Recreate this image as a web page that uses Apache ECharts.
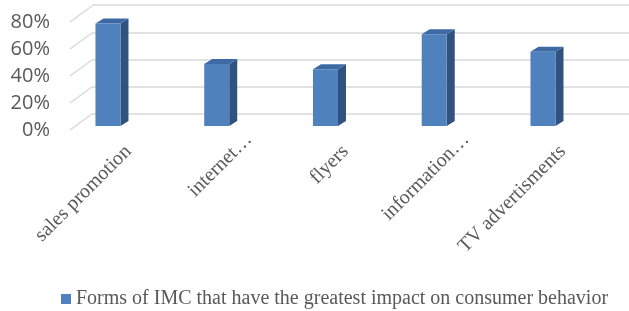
<!DOCTYPE html>
<html>
<head>
<meta charset="utf-8">
<script src="https://cdn.jsdelivr.net/npm/echarts@6/dist/echarts.min.js"></script>
<style>
  html, body { margin: 0; padding: 0; background: #fff; }
  #chart { width: 629px; height: 311px; }
</style>
</head>
<body>
<div id="chart"></div>
<script>
// data
const categories = ['sales promotion', 'internet\u2026', 'flyers', 'information\u2026', 'TV advertisments'];
const values = [76, 46, 42, 68, 55];
const yTicks = [0, 20, 40, 60, 80];
const seriesName = 'Forms of IMC that have the greatest impact on consumer behavior';

const textGrey = '#595959';
const gridGrey = '#d9d9d9';
const faceColor = '#4f81bd';
const sideColor = '#31527f';
const topColor = '#3d6aa4';

const yMin = yTicks[0];
const yMax = yTicks[yTicks.length - 1];
const yStep = yTicks[1] - yTicks[0];

const chart = echarts.init(document.getElementById('chart'));

// labels that are not truncated sit a little lower / left
const labelData = categories.map(c => (
    c.endsWith('\u2026') ? c : { value: c, textStyle: { padding: [15, 17, 0, 0] } }
));

const hiddenAxis = {
    axisLine: { show: false },
    axisTick: { show: false },
    axisLabel: { show: false },
    splitLine: { show: false }
};

const option = {
    animation: false,
    grid: [
        // back wall
        { left: 92, right: 0, top: 5, height: 109 },
        // front plane (value labels)
        { left: 70, width: 20, top: 22, height: 108 },
        // bars
        { left: 53.6, width: 543.75, top: 18, height: 108 },
        // category labels
        { left: 86, width: 543.75, top: 22, height: 110.5 }
    ],
    xAxis: [
        { type: 'category', gridIndex: 0, data: categories, ...hiddenAxis },
        { type: 'category', gridIndex: 1, data: [''], ...hiddenAxis },
        { type: 'category', gridIndex: 2, data: categories, ...hiddenAxis },
        {
            type: 'category', gridIndex: 3, data: labelData,
            axisLine: { show: false },
            axisTick: { show: false },
            splitLine: { show: false },
            axisLabel: {
                rotate: 45,
                margin: 4,
                interval: 0,
                fontFamily: 'Liberation Serif',
                fontSize: 20,
                color: textGrey
            }
        }
    ],
    yAxis: [
        {
            type: 'value', gridIndex: 0, min: yMin, max: yMax, interval: yStep,
            axisLine: { show: false },
            axisTick: { show: false },
            axisLabel: { show: false },
            splitLine: { show: true, lineStyle: { color: gridGrey, width: 1.5 } }
        },
        {
            type: 'value', gridIndex: 1, min: yMin, max: yMax, interval: yStep,
            axisLine: { show: false },
            axisTick: { show: false },
            splitLine: { show: false },
            axisLabel: {
                margin: 20,
                formatter: '{value}%',
                fontFamily: 'Open Sans',
                fontSize: 20,
                color: textGrey
            }
        },
        { type: 'value', gridIndex: 2, min: yMin, max: yMax, ...hiddenAxis },
        { type: 'value', gridIndex: 3, min: yMin, max: yMax, ...hiddenAxis }
    ],
    legend: {
        data: [{ name: seriesName, icon: 'rect' }],
        left: 56,
        top: 284,
        padding: [5, 5, 5, 5],
        itemWidth: 10,
        itemHeight: 10,
        textStyle: { fontFamily: 'Liberation Serif', fontSize: 20, color: textGrey }
    },
    series: [
        {
            // side wall diagonals
            type: 'custom',
            xAxisIndex: 1,
            yAxisIndex: 1,
            silent: true,
            data: yTicks.map(t => [0, t]),
            renderItem: (params, api) => {
                const y = api.coord([0, api.value(1)])[1];
                const x = params.coordSys.x;
                return {
                    type: 'line',
                    shape: { x1: x, y1: y, x2: x + 22, y2: y - 16 },
                    style: { stroke: gridGrey, lineWidth: 1.5 }
                };
            }
        },
        {
            name: seriesName,
            type: 'custom',
            xAxisIndex: 2,
            yAxisIndex: 2,
            itemStyle: { color: faceColor },
            data: values.map((v, i) => [i, v]),
            renderItem: (params, api) => {
                const base = api.coord([api.value(0), 0]);
                const top = api.coord([api.value(0), api.value(1)]);
                const w = api.size([1, 0])[0] * 0.23;
                const dx = 8, dy = -5;
                const x0 = base[0] - w / 2, x1 = base[0] + w / 2;
                const yb = base[1], yt = top[1];
                return {
                    type: 'group',
                    children: [
                        {
                            type: 'polygon',
                            shape: { points: [[x1, yb], [x1 + dx, yb + dy], [x1 + dx, yt + dy], [x1, yt]] },
                            style: { fill: sideColor }
                        },
                        {
                            type: 'polygon',
                            shape: { points: [[x0, yt], [x1, yt], [x1 + dx, yt + dy], [x0 + dx, yt + dy]] },
                            style: { fill: topColor }
                        },
                        {
                            type: 'rect',
                            shape: { x: x0, y: yt, width: w, height: yb - yt },
                            style: { fill: faceColor }
                        }
                    ]
                };
            }
        }
    ]
};

chart.setOption(option);
</script>
</body>
</html>
